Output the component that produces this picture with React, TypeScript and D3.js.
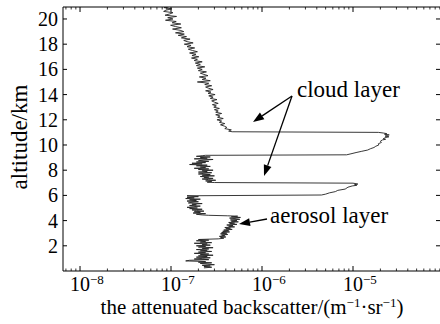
import React from 'react';
import * as d3 from 'd3';

const W = 440;
const H = 324;
const UNIT = 1e-7; // values below are in units of 1e-7 m^-1 sr^-1

// [altitude km, backscatter (x1e-7)]
const molecularUpper: [number, number][] = [
  [21.2, 0.9], [21.0, 0.97], [20.9, 0.84], [20.8, 1.02], [20.7, 0.88], [20.6, 0.83], [20.5, 1.05],
  [20.4, 0.97], [20.3, 0.86], [20.2, 1.15], [20.1, 0.92], [20.0, 1.05], [19.9, 0.87],
  [19.8, 1.14], [19.7, 1.03], [19.6, 1.28], [19.5, 0.99], [19.4, 1.12], [19.3, 1.3],
  [19.2, 1.04], [19.1, 1.26], [19.0, 1.38], [18.9, 1.12], [18.8, 1.4], [18.7, 1.2],
  [18.6, 1.48], [18.5, 1.3], [18.4, 1.62], [18.3, 1.38], [18.2, 1.5], [18.1, 1.75],
  [18.0, 1.4], [17.9, 1.66], [17.8, 1.5], [17.7, 1.82], [17.6, 1.55], [17.5, 1.72],
  [17.4, 1.95], [17.3, 1.6], [17.2, 1.88], [17.1, 1.7], [17.0, 2.02], [16.9, 1.68],
  [16.8, 1.95], [16.7, 1.8], [16.6, 2.2], [16.5, 1.85], [16.4, 2.1], [16.3, 1.9],
  [16.2, 2.35], [16.1, 1.95], [16.0, 2.2], [15.9, 2.0], [15.8, 2.45], [15.7, 2.1],
  [15.6, 2.3], [15.5, 2.55], [15.4, 2.05], [15.3, 2.42], [15.2, 2.2], [15.1, 2.7],
  [15.0, 1.95], [14.9, 2.6], [14.8, 2.35], [14.7, 2.8], [14.6, 2.4], [14.5, 2.6],
  [14.4, 2.9], [14.3, 2.4], [14.2, 2.75], [14.1, 2.55], [14.0, 3.05], [13.9, 2.6],
  [13.8, 2.9], [13.7, 2.7], [13.6, 3.2], [13.5, 2.8], [13.4, 3.0], [13.3, 3.3],
  [13.2, 2.85], [13.1, 3.15], [13.0, 2.95], [12.9, 3.4], [12.8, 3.0], [12.7, 3.3],
  [12.6, 3.1], [12.5, 3.6], [12.4, 3.1], [12.3, 3.45], [12.2, 3.25], [12.1, 3.75],
  [12.0, 3.2], [11.9, 3.6], [11.8, 3.4], [11.7, 3.9], [11.6, 3.5], [11.5, 3.85],
  [11.4, 4.1], [11.3, 3.9], [11.2, 4.6], [11.1, 4.3], [11.05, 4.7],
];

const cloudLayerHigh: [number, number][] = [
  [11.0, 190], [10.95, 215], [10.9, 235], [10.85, 222], [10.8, 250], [10.75, 232],
  [10.7, 225], [10.65, 248], [10.6, 230], [10.5, 215], [10.45, 228], [10.4, 210],
  [10.3, 200], [10.2, 205], [10.1, 190], [10.0, 192], [9.9, 178], [9.8, 170],
  [9.7, 155], [9.6, 145], [9.5, 125], [9.4, 108], [9.3, 95], [9.22, 85],
];

const midTroposphere: [number, number][] = [
  [9.18, 2.4], [9.15, 2.2], [9.1, 1.9], [9.05, 2.7], [9.0, 2.1], [8.95, 2.5], [8.9, 1.8],
  [8.85, 2.9], [8.8, 2.3], [8.75, 2.0], [8.7, 2.6], [8.65, 1.9], [8.6, 2.4], [8.55, 1.7],
  [8.5, 2.2], [8.45, 1.6], [8.4, 2.5], [8.35, 1.9], [8.3, 2.7], [8.25, 2.1], [8.2, 2.4],
  [8.15, 1.8], [8.1, 2.6], [8.05, 2.0], [8.0, 2.9], [7.95, 2.2], [7.9, 2.5], [7.85, 2.0],
  [7.8, 2.8], [7.75, 2.3], [7.7, 2.0], [7.65, 2.7], [7.6, 2.2], [7.55, 3.0], [7.5, 2.1],
  [7.45, 2.6], [7.4, 2.3], [7.35, 2.9], [7.3, 2.2], [7.25, 2.6], [7.2, 3.1], [7.15, 2.4],
  [7.1, 2.8], [7.05, 2.5], [7.02, 3.0],
];

const cloudLayerLow: [number, number][] = [
  [6.97, 100], [6.93, 108], [6.9, 113], [6.85, 104], [6.8, 110], [6.75, 98], [6.65, 88],
  [6.5, 82], [6.4, 68], [6.3, 64], [6.2, 55], [6.1, 50], [6.03, 45],
];

const lowerTroposphere: [number, number][] = [
  [5.97, 1.5], [5.95, 1.6], [5.9, 2.0], [5.85, 1.5], [5.8, 1.8], [5.75, 1.45], [5.7, 2.1],
  [5.65, 1.6], [5.6, 1.9], [5.55, 1.5], [5.5, 2.0], [5.45, 1.7], [5.4, 1.55], [5.35, 2.2],
  [5.3, 1.7], [5.25, 1.9], [5.2, 1.6], [5.15, 2.1], [5.1, 1.75], [5.05, 1.5], [5.0, 1.95],
  [4.95, 1.6], [4.9, 2.2], [4.85, 1.7], [4.8, 1.9], [4.75, 2.3], [4.7, 1.8], [4.65, 2.1],
  [4.6, 1.75], [4.55, 2.4], [4.5, 1.9], [4.45, 2.2], [4.42, 2.6],
];

const aerosolLayer: [number, number][] = [
  [4.38, 4.2], [4.35, 5.4], [4.3, 4.6], [4.25, 5.8], [4.2, 4.4], [4.15, 5.2], [4.1, 5.7],
  [4.05, 4.5], [4.0, 5.3], [3.95, 4.6], [3.9, 5.5], [3.85, 4.3], [3.8, 5.0], [3.75, 4.4],
  [3.7, 5.3], [3.65, 4.1], [3.6, 4.8], [3.55, 4.3], [3.5, 5.0], [3.45, 3.9], [3.4, 4.5],
  [3.35, 4.0], [3.3, 4.7], [3.25, 3.8], [3.2, 4.3], [3.15, 3.7], [3.1, 4.4], [3.05, 3.6],
  [3.0, 4.1], [2.95, 3.5], [2.9, 4.2], [2.85, 3.6], [2.8, 3.9], [2.75, 3.4], [2.7, 4.0],
  [2.65, 3.5], [2.6, 3.8], [2.55, 3.3],
];

const boundaryLayer: [number, number][] = [
  [2.5, 2.0], [2.45, 2.6], [2.4, 1.9], [2.35, 2.4], [2.3, 2.1], [2.25, 2.8], [2.2, 1.8],
  [2.15, 2.5], [2.1, 2.2], [2.05, 2.7], [2.0, 1.9], [1.95, 2.4], [1.9, 2.0], [1.85, 2.9],
  [1.8, 2.2], [1.75, 2.6], [1.7, 1.9], [1.65, 2.5], [1.6, 2.1], [1.55, 2.8], [1.5, 2.0],
  [1.45, 2.4], [1.4, 1.8], [1.35, 2.6], [1.3, 2.1], [1.25, 2.9], [1.2, 2.0], [1.15, 2.5],
  [1.1, 1.9], [1.05, 2.7], [1.0, 2.2], [0.95, 1.8], [0.9, 2.6], [0.85, 1.6], [0.8, 1.45],
  [0.75, 2.4], [0.7, 2.0], [0.65, 2.8], [0.6, 2.1], [0.55, 2.5], [0.5, 3.0], [0.45, 2.2],
  [0.4, 2.7], [0.35, 2.3], [0.3, 2.8], [0.25, 2.3],
];

const yTicks = [2, 4, 6, 8, 10, 12, 14, 16, 18, 20];
const xDecades = [-8, -7, -6, -5];

const FONT = "'Liberation Serif', 'DejaVu Serif', serif";

export default function App() {
  const left = 63, right = 440, top = 7, bottom = 271;
  const x = d3.scaleLog().domain([Math.pow(10, -8.187), Math.pow(10, -4.044)]).range([left, right]);
  const y = d3.scaleLinear().domain([0, 20.95]).range([bottom, top]);

  const profile = [
    ...molecularUpper, ...cloudLayerHigh, ...midTroposphere, ...cloudLayerLow,
    ...lowerTroposphere, ...aerosolLayer, ...boundaryLayer,
  ];
  const line = d3.line<[number, number]>().x(d => x(d[1] * UNIT)).y(d => y(d[0]));

  const [d0, d1] = x.domain();
  const minorTicks: number[] = [];
  for (let e = -9; e <= -4; e++) {
    for (let m = 2; m <= 9; m++) {
      const v = m * Math.pow(10, e);
      if (v > d0 && v < d1) minorTicks.push(v);
    }
  }

  const arrow = (x1: number, y1: number, x2: number, y2: number, key: string) => {
    const dx = x2 - x1, dy = y2 - y1;
    const len = Math.hypot(dx, dy);
    const ux = dx / len, uy = dy / len;
    const hl = 11, hw = 4;
    const bx = x2 - ux * hl, by = y2 - uy * hl;
    const pts = `${x2},${y2} ${bx - uy * hw},${by + ux * hw} ${bx + uy * hw},${by - ux * hw}`;
    return (
      <g key={key}>
        <line x1={x1} y1={y1} x2={bx} y2={by} stroke="#000" strokeWidth={1.3} />
        <polygon points={pts} fill="#000" />
      </g>
    );
  };

  return (
    <svg width={W} height={H} style={{ position: 'absolute', left: 0, top: 0, background: '#fff' }}
      fontFamily={FONT}>
      <defs>
        <clipPath id="plotClip">
          <rect x={left} y={top} width={right - left} height={bottom - top} />
        </clipPath>
      </defs>
      <rect x={0} y={0} width={W} height={H} fill="#fff" />

      <path d={line(profile) || ''} fill="none" stroke="#222" strokeWidth={0.9}
        clipPath="url(#plotClip)" />

      {/* frame */}
      <line x1={left} y1={top} x2={left} y2={bottom} stroke="#000" strokeWidth={1} />
      <line x1={left} y1={bottom} x2={right} y2={bottom} stroke="#000" strokeWidth={1} />
      <line x1={left} y1={top} x2={right} y2={top} stroke="#000" strokeWidth={1} />

      {/* y ticks */}
      {yTicks.map(t => (
        <g key={'y' + t}>
          <line x1={left} x2={left + 4} y1={y(t)} y2={y(t)} stroke="#000" />
          <line x1={right - 4} x2={right} y1={y(t)} y2={y(t)} stroke="#000" />
          <text x={58} y={y(t)} dy="0.35em" textAnchor="end" fontSize={20}>{t}</text>
        </g>
      ))}

      {/* x ticks */}
      {minorTicks.map((v, i) => (
        <g key={'m' + i}>
          <line x1={x(v)} x2={x(v)} y1={bottom} y2={bottom - 2.5} stroke="#000" strokeWidth={0.8} />
          <line x1={x(v)} x2={x(v)} y1={top} y2={top + 2.5} stroke="#000" strokeWidth={0.8} />
        </g>
      ))}
      {xDecades.map(e => {
        const px = x(Math.pow(10, e));
        return (
          <g key={'x' + e}>
            <line x1={px} x2={px} y1={bottom} y2={bottom - 5} stroke="#000" />
            <line x1={px} x2={px} y1={top} y2={top + 5} stroke="#000" />
            <text x={px - 10} y={291} fontSize={20}>
              10<tspan dy={-7} fontSize={13}>{'\u2212' + Math.abs(e)}</tspan>
            </text>
          </g>
        );
      })}

      {/* axis labels */}
      <text x={252} y={314} textAnchor="middle" fontSize={21}>
        the attenuated backscatter/(m<tspan dy={-7} fontSize={13}>{'\u22121'}</tspan>
        <tspan dy={7}>{'\u00b7'}sr</tspan><tspan dy={-7} fontSize={13}>{'\u22121'}</tspan>
        <tspan dy={7}>)</tspan>
      </text>
      <text transform="translate(27,137) rotate(-90)" textAnchor="middle" fontSize={23}>altitude/km</text>

      {/* annotations */}
      <text x={297} y={97} fontSize={23}>cloud layer</text>
      {arrow(292, 96, 253, 122, 'a1')}
      {arrow(292, 96, 264, 176, 'a2')}
      <text x={270} y={223} fontSize={23}>aerosol layer</text>
      {arrow(267, 219, 239, 224, 'a3')}
    </svg>
  );
}
